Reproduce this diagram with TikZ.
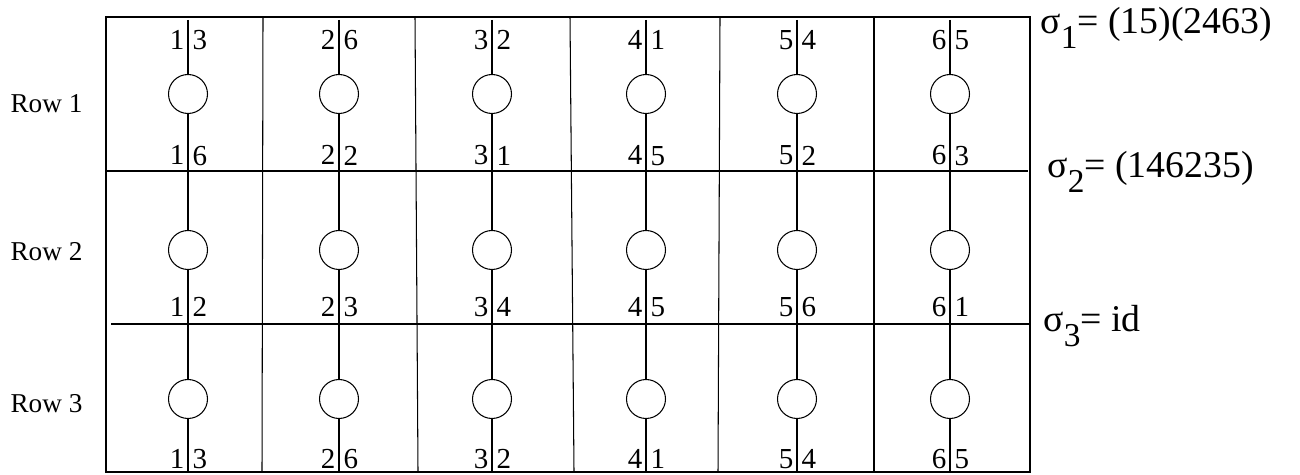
\documentclass[tikz,border=0pt]{standalone}
\usepackage{fontspec}
\setmainfont{Liberation Serif}
\usetikzlibrary{positioning}

\newcommand{\digitfont}{\fontsize{16.5}{16.5}\selectfont}
\newcommand{\rowfont}{\fontsize{15.5}{15.5}\selectfont}
\newcommand{\permfont}{\fontsize{21.5}{21.5}\selectfont}
\newcommand{\lowsub}[1]{\raisebox{-8pt}{\fontsize{19}{19}\selectfont #1}}

\begin{document}
\begin{tikzpicture}[x=0.02cm, y=-0.02cm, line width=0.6pt,
	gate/.style={circle, draw, minimum size=0.78cm, inner sep=0},
	lft/.style={anchor=base east, inner sep=0, font=\digitfont},
	rgt/.style={anchor=base west, inner sep=0, font=\digitfont},
	rowlabel/.style={anchor=base west, inner sep=0, font=\rowfont},
	perm/.style={anchor=base west, inner sep=0, font=\permfont}]
	\useasboundingbox (0,0) rectangle (1300,475);
	
	% frame and grid
	\draw (106,17) rectangle (1030,472);
	\foreach \xt/\xb in {263/262, 415/418, 570/574, 720/718, 874/874}
		\draw (\xt,17) -- (\xb,472);
	\draw (106,171) -- (1028,171);
	\draw (111,324) -- (1030,324);
	
	% wires with gates
	\foreach \cx/\ta/\ra/\sa/\ua [count=\c] in {188/3/6/2/3, 339/6/2/3/6, 492/2/1/4/2, 646/1/5/5/1, 797/4/2/6/4, 950/5/3/1/5} {
		\coordinate (t\c) at (\cx,20);
		\coordinate (b\c) at (\cx,472);
		\node[gate] (ga\c) at (\cx,94) {};
		\node[gate] (gb\c) at (\cx,250) {};
		\node[gate] (gc\c) at (\cx,399) {};
		\draw (t\c) -- (ga\c);
		\draw (ga\c) -- (gb\c);
		\draw (gb\c) -- (gc\c);
		\draw (gc\c) -- (b\c);
		% labels
		\node[lft] (la\c) at (\cx-3,50) {\c};
		\node[rgt] (ra\c) at (\cx+4,50) {\ta};
		\node[lft] (lb\c) at (\cx-3,165) {\c};
		\node[rgt] (rb\c) at (\cx+4,166) {\ra};
		\node[lft] (lc\c) at (\cx-3,317) {\c};
		\node[rgt] (rc\c) at (\cx+4,317) {\sa};
		\node[lft] (ld\c) at (\cx-3,469) {\c};
		\node[rgt] (rd\c) at (\cx+4,469) {\ua};
	}
	
	% row names
	\node[rowlabel] (row1) at (10,113) {Row 1};
	\node[rowlabel] (row2) at (10,261) {Row 2};
	\node[rowlabel] (row3) at (10,413) {Row 3};
	
	% permutations
	\node[perm] (sig1) at (1040,34) {σ\lowsub{1}= (15)(2463)};
	\node[perm] (sig2) at (1047,178) {σ\lowsub{2}= (146235)};
	\node[perm] (sig3) at (1043,332) {σ\lowsub{3}= id};
\end{tikzpicture}
\end{document}
